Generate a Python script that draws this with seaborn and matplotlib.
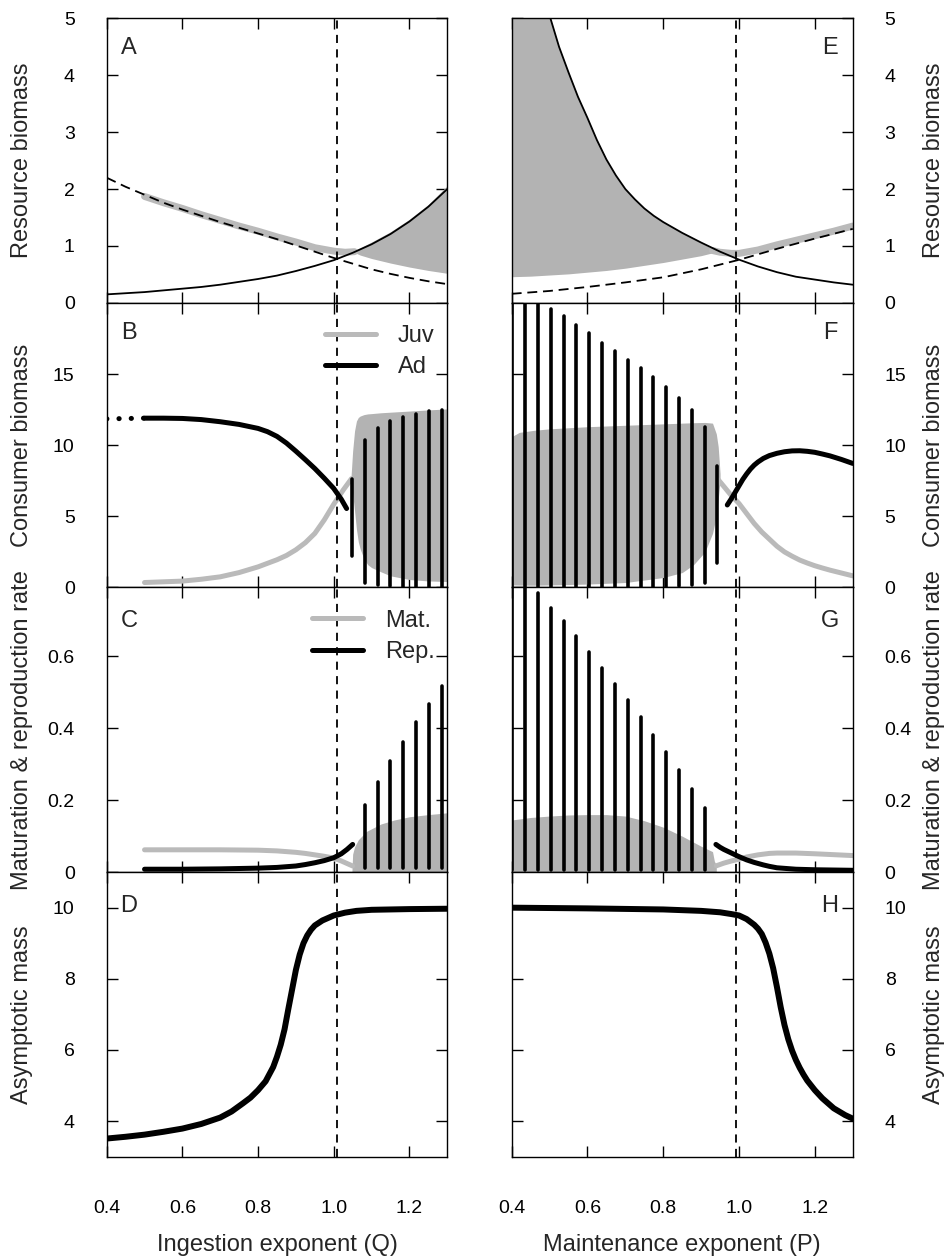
import numpy as np
import pandas as pd
import matplotlib
matplotlib.use("Agg")
import matplotlib.pyplot as plt
import seaborn as sns
from matplotlib.lines import Line2D

# ---------------- data ----------------
# Panel A : resource vs ingestion exponent Q
qA = [0.4, 0.45, 0.5, 0.55, 0.6, 0.65, 0.7, 0.75, 0.8, 0.85, 0.9, 0.95, 1.0,
      1.05, 1.1, 1.15, 1.2, 1.25, 1.3]
resA_solid = [0.15, 0.17, 0.19, 0.22, 0.25, 0.28, 0.32, 0.37, 0.42, 0.48, 0.56, 0.65, 0.75,
              0.88, 1.03, 1.21, 1.43, 1.69, 2.0]
resA_dash = [2.2, 2.04, 1.9, 1.76, 1.64, 1.53, 1.42, 1.32, 1.22, 1.12, 1.01, 0.9, 0.79,
             0.69, 0.59, 0.51, 0.44, 0.38, 0.33]
qA_gray = [0.5, 0.55, 0.6, 0.65, 0.7, 0.75, 0.8, 0.85, 0.9, 0.95, 1.0, 1.03, 1.055]
resA_gray = [1.87, 1.76, 1.66, 1.55, 1.45, 1.35, 1.26, 1.16, 1.07, 0.97, 0.91, 0.89, 0.9]
qA_fill = [1.05, 1.07, 1.1, 1.15, 1.2, 1.25, 1.3]
resA_fill_hi = [0.91, 0.97, 1.07, 1.25, 1.47, 1.73, 2.06]
resA_fill_lo = [0.9, 0.84, 0.78, 0.70, 0.63, 0.57, 0.52]

# Panel E : resource vs maintenance exponent P
pE = [0.4, 0.45, 0.5, 0.525, 0.55, 0.575, 0.6, 0.625, 0.65, 0.675, 0.7, 0.725, 0.75,
      0.775, 0.8, 0.85, 0.9, 0.95, 1.0, 1.05, 1.1, 1.15, 1.2, 1.25, 1.3]
resE_solid = [8.5, 6.5, 5.05, 4.5, 4.05, 3.62, 3.25, 2.86, 2.52, 2.24, 2.0, 1.82, 1.66,
              1.53, 1.42, 1.23, 1.06, 0.9, 0.76, 0.64, 0.54, 0.46, 0.41, 0.36, 0.32]
pE_dash = [0.4, 0.5, 0.6, 0.7, 0.8, 0.9, 1.0, 1.1, 1.2, 1.3]
resE_dash = [0.16, 0.21, 0.28, 0.36, 0.45, 0.59, 0.757, 0.95, 1.13, 1.30]
pE_fill = [0.4, 0.45, 0.5, 0.525, 0.55, 0.575, 0.6, 0.625, 0.65, 0.675, 0.7, 0.725, 0.75,
           0.775, 0.8, 0.85, 0.9, 0.93]
resE_fill_hi = [8.5, 6.5, 5.05, 4.5, 4.05, 3.62, 3.25, 2.86, 2.52, 2.24, 2.0, 1.82, 1.66,
                1.53, 1.42, 1.23, 1.06, 0.95]
resE_fill_lo = [0.46, 0.47, 0.49, 0.50, 0.51, 0.525, 0.54, 0.555, 0.57, 0.59, 0.61, 0.635, 0.66,
                0.685, 0.71, 0.77, 0.83, 0.88]
pE_gray = [0.93, 0.95, 0.98, 1.0, 1.05, 1.1, 1.15, 1.2, 1.25, 1.3]
resE_gray = [0.92, 0.89, 0.87, 0.87, 0.93, 1.02, 1.1, 1.18, 1.26, 1.35]

# Panel B : consumer biomass vs Q
qB_dot = [0.4, 0.5]
adB_dot = [11.85, 11.9]
qB_ad = [0.5, 0.55, 0.6, 0.65, 0.7, 0.75, 0.8, 0.825, 0.85, 0.875, 0.9, 0.925, 0.95,
         0.975, 1.0, 1.02, 1.034]
adB = [11.9, 11.9, 11.88, 11.8, 11.65, 11.46, 11.18, 10.95, 10.62, 10.15, 9.58, 8.98, 8.36,
       7.68, 6.96, 6.2, 5.55]
qB_juv = [0.5, 0.55, 0.6, 0.65, 0.7, 0.75, 0.8, 0.85, 0.875, 0.9, 0.925, 0.95, 0.975,
          1.0, 1.025, 1.047]
juvB = [0.35, 0.4, 0.45, 0.58, 0.75, 1.05, 1.45, 1.95, 2.25, 2.65, 3.15, 3.8, 4.75,
        5.85, 6.85, 7.65]
qB_fill = [1.045, 1.05, 1.055, 1.06, 1.065, 1.07, 1.08, 1.09, 1.1, 1.125, 1.15, 1.2, 1.25, 1.3]
B_fill_hi = [7.5, 9.6, 11.0, 11.7, 11.95, 12.05, 12.15, 12.2, 12.22, 12.28, 12.32, 12.4, 12.48, 12.55]
B_fill_lo = [7.5, 6.6, 5.4, 4.1, 3.2, 2.7, 2.0, 1.6, 1.4, 1.1, 0.82, 0.56, 0.46, 0.42]
qB_bars = [1.047, 1.082, 1.116, 1.149, 1.184, 1.218, 1.252, 1.286]
B_bar_hi = [7.65, 10.4, 11.2, 11.67, 12.0, 12.2, 12.4, 12.45]
B_bar_lo = [2.2, 0.32, 0.16, 0.09, 0.06, 0.05, 0.05, 0.05]

# Panel F : consumer biomass vs P
pF_bars = [0.4, 0.435, 0.469, 0.503, 0.537, 0.571, 0.605, 0.639, 0.672, 0.706,
           0.740, 0.774, 0.808, 0.841, 0.875, 0.909, 0.942]
F_bar_hi = [21.0, 21.0, 20.5, 19.6, 19.1, 18.45, 17.85, 17.2, 16.6, 16.0,
            15.4, 14.8, 14.1, 13.3, 12.5, 11.3, 8.55]
F_bar_lo = [0.05, 0.05, 0.05, 0.05, 0.05, 0.05, 0.05, 0.05, 0.05, 0.05,
            0.05, 0.05, 0.05, 0.1, 0.15, 0.3, 1.7]
pF_fill = [0.4, 0.42, 0.46, 0.5, 0.6, 0.7, 0.8, 0.85, 0.88, 0.91, 0.93, 0.94, 0.945, 0.95]
F_fill_hi = [10.6, 10.9, 11.05, 11.15, 11.3, 11.4, 11.5, 11.55, 11.58, 11.6, 11.55, 10.8, 9.9, 8.0]
F_fill_lo = [0.18, 0.17, 0.16, 0.18, 0.24, 0.35, 0.7, 1.05, 1.6, 2.5, 3.8, 5.0, 6.2, 7.5]
pF_ad = [0.969, 0.98, 0.99, 1.0, 1.01, 1.02, 1.03, 1.04, 1.05, 1.064, 1.08, 1.1, 1.12,
         1.14, 1.16, 1.18, 1.2, 1.22, 1.24, 1.27, 1.3]
adF = [5.8, 6.25, 6.7, 7.15, 7.6, 7.98, 8.32, 8.6, 8.82, 9.07, 9.27, 9.43, 9.54,
       9.6, 9.61, 9.57, 9.5, 9.38, 9.25, 9.0, 8.72]
pF_juv = [0.946, 0.96, 0.98, 1.0, 1.02, 1.04, 1.06, 1.08, 1.1, 1.12, 1.14, 1.16, 1.18,
          1.2, 1.22, 1.24, 1.27, 1.3]
juvF = [7.55, 7.1, 6.45, 5.9, 5.2, 4.5, 3.9, 3.4, 2.9, 2.5, 2.2, 1.93, 1.72,
        1.53, 1.37, 1.22, 1.02, 0.82]

# Panel C : maturation & reproduction vs Q
qC = [0.5, 0.6, 0.7, 0.8, 0.85, 0.9, 0.925, 0.95, 0.975, 1.0, 1.02, 1.035, 1.05]
matC = [0.062, 0.062, 0.062, 0.061, 0.059, 0.055, 0.052, 0.048, 0.044, 0.039, 0.031, 0.024, 0.017]
repC = [0.008, 0.008, 0.009, 0.011, 0.013, 0.017, 0.021, 0.026, 0.032, 0.04, 0.051, 0.063, 0.077]
qC_fill = [1.048, 1.05, 1.055, 1.065, 1.086, 1.125, 1.16, 1.2, 1.25, 1.3]
C_fill_hi = [0.0, 0.05, 0.07, 0.09, 0.113, 0.134, 0.145, 0.154, 0.16, 0.165]
qC_bars = [1.082, 1.116, 1.149, 1.184, 1.218, 1.252, 1.286]
C_bar_hi = [0.187, 0.25, 0.309, 0.363, 0.417, 0.467, 0.518]
C_bar_lo = [0.011, 0.011, 0.011, 0.011, 0.011, 0.011, 0.011]

# Panel G : maturation & reproduction vs P
pG_bars = [0.4, 0.435, 0.469, 0.503, 0.537, 0.571, 0.605, 0.639, 0.672, 0.706,
           0.740, 0.774, 0.808, 0.841, 0.875, 0.909]
G_bar_hi = [0.85, 0.85, 0.776, 0.736, 0.698, 0.656, 0.613, 0.569, 0.524, 0.479,
            0.432, 0.382, 0.334, 0.285, 0.232, 0.177]
G_bar_lo = [0.005] * 16
pG_fill = [0.4, 0.45, 0.5, 0.55, 0.6, 0.65, 0.7, 0.75, 0.8, 0.85, 0.9, 0.93, 0.935, 0.94]
G_fill_hi = [0.145, 0.152, 0.156, 0.159, 0.16, 0.16, 0.156, 0.143, 0.125, 0.1, 0.072, 0.057, 0.03, 0.02]
pG_mat = [0.94, 0.96, 0.98, 1.0, 1.02, 1.05, 1.08, 1.1, 1.15, 1.2, 1.3]
matG = [0.0175, 0.025, 0.031, 0.036, 0.042, 0.048, 0.052, 0.053, 0.053, 0.051, 0.046]
pG_rep = [0.939, 0.95, 0.96, 0.976, 1.0, 1.02, 1.04, 1.064, 1.08, 1.1, 1.15, 1.2, 1.3]
repG = [0.077, 0.069, 0.063, 0.055, 0.043, 0.034, 0.027, 0.02, 0.016, 0.012, 0.008, 0.0065, 0.005]

# Panel D : asymptotic mass vs Q
qD = [0.4, 0.45, 0.5, 0.55, 0.6, 0.65, 0.7, 0.73, 0.76, 0.78, 0.8, 0.82, 0.84, 0.85,
      0.86, 0.87, 0.88, 0.89, 0.9, 0.91, 0.92, 0.93, 0.94, 0.95, 0.97, 1.0, 1.03,
      1.06, 1.1, 1.2, 1.3]
massD = [3.51, 3.56, 3.62, 3.70, 3.79, 3.92, 4.10, 4.27, 4.50, 4.66, 4.87, 5.12, 5.52, 5.81,
         6.15, 6.58, 7.15, 7.70, 8.25, 8.68, 9.00, 9.22, 9.38, 9.50, 9.64, 9.78, 9.86,
         9.91, 9.94, 9.96, 9.97]
# Panel H : asymptotic mass vs P
pH = [0.4, 0.6, 0.8, 0.9, 0.95, 0.98, 1.0, 1.02, 1.04, 1.05, 1.06, 1.07, 1.08, 1.09,
      1.1, 1.11, 1.12, 1.13, 1.14, 1.15, 1.16, 1.17, 1.18, 1.2, 1.22, 1.25, 1.28, 1.3]
massH = [10.0, 9.98, 9.95, 9.91, 9.87, 9.82, 9.78, 9.68, 9.52, 9.41, 9.26, 9.02, 8.71, 8.3,
         7.77, 7.2, 6.7, 6.3, 5.98, 5.72, 5.5, 5.31, 5.14, 4.87, 4.64, 4.36, 4.17, 4.07]

vline_Q = 1.008
vline_P = 0.992
xticks = [0.4, 0.6, 0.8, 1.0, 1.2]
xticklabels = ["0.4", "0.6", "0.8", "1.0", "1.2"]
ylabels = ["Resource biomass", "Consumer biomass",
           "Maturation & reproduction rate", "Asymptotic mass"]
letters_left = ["A", "B", "C", "D"]
letters_right = ["E", "F", "G", "H"]

# ---------------- styling ----------------
sns.set_theme(style="ticks")
plt.rcParams["font.family"] = ["Liberation Sans", "DejaVu Sans"]
plt.rcParams["lines.solid_capstyle"] = "round"
plt.rcParams["lines.solid_joinstyle"] = "round"
plt.rcParams["lines.dash_capstyle"] = "butt"
plt.rcParams["axes.edgecolor"] = "black"
plt.rcParams["axes.linewidth"] = 1.0

GRAY = "#b3b3b3"
GRAYL = "#bababa"
THICK = 3.6
BAR = 2.6
THIN = 1.3
DASH = (0, (5.5, 3.2))

fig = plt.figure(figsize=(9.5, 12.59), dpi=100)
W_L, X_L = 0.3585, 0.1123
W_R, X_R = 0.3590, 0.5386
H = 0.22605
Y0 = [0.75941, 0.53336, 0.30731, 0.08126]

axL = [fig.add_axes([X_L, y, W_L, H]) for y in Y0]
axR = [fig.add_axes([X_R, y, W_R, H]) for y in Y0]

ylims = [(0, 5), (0, 20), (0, 0.792), (3, 11)]
yticks = [[0, 1, 2, 3, 4, 5], [0, 5, 10, 15], [0, 0.2, 0.4, 0.6], [4, 6, 8, 10]]
yticklabels = [["0", "1", "2", "3", "4", "5"], ["0", "5", "10", "15"],
               ["0", "0.2", "0.4", "0.6"], ["4", "6", "8", "10"]]

def line(ax, x, y, color, lw, ls="-", z=3):
    sns.lineplot(x=x, y=y, ax=ax, color=color, lw=lw, linestyle=ls,
                 sort=False, estimator=None, legend=False, zorder=z)

# ---- A
ax = axL[0]
ax.fill_between(qA_fill, resA_fill_lo, resA_fill_hi, color=GRAY, lw=0, zorder=1)
line(ax, qA_gray, resA_gray, GRAYL, 5.0, z=2)
line(ax, qA, resA_solid, "black", THIN, z=3)
line(ax, qA, resA_dash, "black", THIN, ls=DASH, z=3)

# ---- E
ax = axR[0]
ax.fill_between(pE_fill, resE_fill_lo, resE_fill_hi, color=GRAY, lw=0, zorder=1)
line(ax, pE_gray, resE_gray, GRAYL, 5.0, z=2)
line(ax, pE, resE_solid, "black", THIN, z=3)
line(ax, pE_dash, resE_dash, "black", THIN, ls=DASH, z=3)

# ---- B
ax = axL[1]
ax.fill_between(qB_fill, B_fill_lo, B_fill_hi, color=GRAY, lw=0, zorder=1)
line(ax, qB_juv, juvB, GRAYL, THICK, z=2)
line(ax, qB_ad, adB, "black", THICK, z=3)
ax.plot(qB_dot, adB_dot, color="black", lw=THICK, linestyle=(0, (0.05, 2.4)),
        dash_capstyle="round", zorder=3)
ax.vlines(qB_bars, B_bar_lo, B_bar_hi, color="black", lw=BAR, capstyle="round", zorder=4)
hB = [Line2D([], [], color=GRAYL, lw=THICK), Line2D([], [], color="black", lw=THICK)]
ax.legend(hB, ["Juv", "Ad"], loc="upper left", bbox_to_anchor=(0.641, 0.922),
          frameon=False, fontsize=17, handlelength=2.16, handletextpad=0.93,
          labelspacing=0.39, borderpad=0, borderaxespad=0)

# ---- F
ax = axR[1]
ax.fill_between(pF_fill, F_fill_lo, F_fill_hi, color=GRAY, lw=0, zorder=1)
ax.vlines(pF_bars, F_bar_lo, F_bar_hi, color="black", lw=BAR, capstyle="round", zorder=4)
line(ax, pF_juv, juvF, GRAYL, THICK, z=2)
line(ax, pF_ad, adF, "black", THICK, z=3)

# ---- C
ax = axL[2]
ax.fill_between(qC_fill, 0, C_fill_hi, color=GRAY, lw=0, zorder=1)
line(ax, qC, matC, GRAYL, THICK, z=2)
line(ax, qC, repC, "black", THICK, z=3)
ax.vlines(qC_bars, C_bar_lo, C_bar_hi, color="black", lw=BAR, capstyle="round", zorder=4)
hC = [Line2D([], [], color=GRAYL, lw=THICK), Line2D([], [], color="black", lw=THICK)]
ax.legend(hC, ["Mat.", "Rep."], loc="upper left", bbox_to_anchor=(0.603, 0.922),
          frameon=False, fontsize=17, handlelength=2.16, handletextpad=0.93,
          labelspacing=0.39, borderpad=0, borderaxespad=0)

# ---- G
ax = axR[2]
ax.fill_between(pG_fill, 0, G_fill_hi, color=GRAY, lw=0, zorder=1)
ax.vlines(pG_bars, G_bar_lo, G_bar_hi, color="black", lw=BAR, capstyle="round", zorder=4)
line(ax, pG_mat, matG, GRAYL, THICK, z=2)
line(ax, pG_rep, repG, "black", THICK, z=3)

# ---- D / H
line(axL[3], qD, massD, "black", 4.3, z=3)
line(axR[3], pH, massH, "black", 4.3, z=3)

# ---------------- axes cosmetics ----------------
for i in range(4):
    for side, ax in (("L", axL[i]), ("R", axR[i])):
        ax.set_xlim(0.4, 1.3)
        ax.set_ylim(*ylims[i])
        ax.set_xticks(xticks)
        ax.set_yticks(yticks[i])
        ax.set_xlabel("")
        ax.set_ylabel("")
        ax.axvline(vline_Q if side == "L" else vline_P, color="black", lw=1.3,
                   linestyle=(0, (4.5, 3.5)), zorder=5)
        ax.set_xticklabels(xticklabels)
        ax.set_yticklabels(yticklabels[i])
        ax.tick_params(axis="both", direction="in", length=8, width=1.0,
                       top=True, right=True, bottom=True, left=True,
                       labelsize=14, colors="black")
        ax.tick_params(axis="y", pad=23)
        ax.tick_params(axis="x", pad=31)
        ax.tick_params(labelbottom=(i == 3), labeltop=False)
        if side == "L":
            ax.tick_params(labelleft=True, labelright=False)
        else:
            ax.tick_params(labelleft=False, labelright=True)
        for sp in ax.spines.values():
            sp.set_visible(True)
            sp.set_color("black")
            sp.set_linewidth(1.0)
        ax.set_facecolor("white")
    axL[i].text(0.065, 0.896 if i < 2 else 0.881, letters_left[i],
                transform=axL[i].transAxes, fontsize=17, ha="center", va="center")
    axR[i].text(0.933, 0.896 if i < 2 else 0.881, letters_right[i],
                transform=axR[i].transAxes, fontsize=17, ha="center", va="center")
    yc = Y0[i] + H / 2
    fig.text(22 / 950, yc, ylabels[i], rotation=90, ha="center", va="center", fontsize=17)
    fig.text(934 / 950, yc, ylabels[i], rotation=90, ha="center", va="center", fontsize=17)

fig.text(277 / 950, 1 - 1245 / 1259, "Ingestion exponent (Q)", ha="center",
         va="center", fontsize=17)
fig.text(682 / 950, 1 - 1245 / 1259, "Maintenance exponent (P)", ha="center",
         va="center", fontsize=17)

fig.savefig("out.png", dpi=100, facecolor="white")
